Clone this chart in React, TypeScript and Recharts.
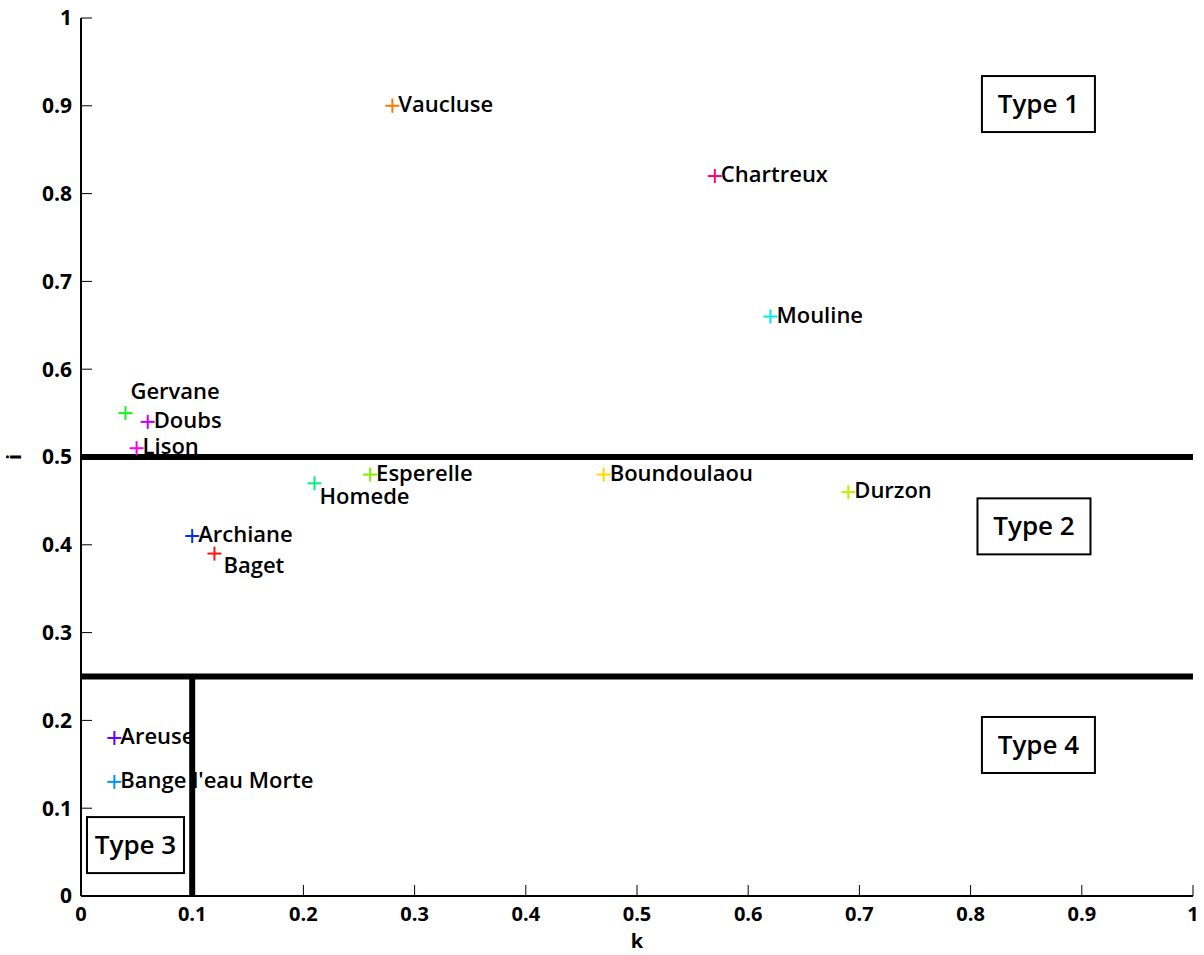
import { ScatterChart, Scatter, XAxis, YAxis, ReferenceLine, ReferenceDot } from 'recharts'

// springs, k (x) and i (y)
const sites = [
  'Vaucluse', 'Chartreux', 'Mouline', 'Gervane', 'Doubs', 'Lison', 'Esperelle',
  'Homede', 'Boundoulaou', 'Durzon', 'Archiane', 'Baget', 'Areuse', "Bange l'eau Morte",
]
const kValues = [0.28, 0.57, 0.62, 0.04, 0.06, 0.05, 0.26, 0.21, 0.47, 0.69, 0.1, 0.12, 0.03, 0.03]
const iValues = [0.9, 0.82, 0.66, 0.55, 0.54, 0.51, 0.48, 0.47, 0.48, 0.46, 0.41, 0.39, 0.18, 0.13]
const siteColors = [
  '#ff7800', '#ff0080', '#00e8f0', '#20f020', '#c000ff', '#ff00e0', '#80f000',
  '#00f080', '#ffd800', '#c0f000', '#0030ff', '#ff1010', '#6000ff', '#0090ff',
]

const ticks = [0, 0.1, 0.2, 0.3, 0.4, 0.5, 0.6, 0.7, 0.8, 0.9, 1]

// classification boundaries
const iLimits = [0.5, 0.25]
const kLimit = 0.1

const typeNames = ['Type 1', 'Type 2', 'Type 3', 'Type 4']
const typeK = [0.861, 0.857, 0.049, 0.861]
const typeI = [0.902, 0.421, 0.058, 0.172]

// label offsets (dx, dy) for names not sitting right of their marker
const LABEL_OFFSET: Record<string, [number, number]> = {
  Gervane: [5, -14],
  Homede: [5, 21],
  Baget: [9, 19],
}
const BOX_WIDTH: Record<string, number> = { 'Type 3': 97 }

const FONT = '"Open Sans", sans-serif'

const data = sites.map((name, i) => ({ name, k: kValues[i], i: iValues[i], color: siteColors[i] }))

const PlusLabel = (props: any) => {
  const { cx, cy, payload } = props
  if (cx == null || cy == null) return null
  const [dx, dy] = LABEL_OFFSET[payload.name] ?? [6, 6]
  return (
    <g>
      <line x1={cx - 7} x2={cx + 7} y1={cy} y2={cy} stroke={payload.color} strokeWidth={2} />
      <line x1={cx} x2={cx} y1={cy - 7} y2={cy + 7} stroke={payload.color} strokeWidth={2} />
      <text x={cx + dx} y={cy + dy} fontSize={22} fontWeight={600} fontFamily={FONT} fill="#000">
        {payload.name}
      </text>
    </g>
  )
}

const TypeBox = (name: string) => (props: any) => {
  const { cx, cy } = props
  if (cx == null || cy == null) return <g />
  const w = BOX_WIDTH[name] ?? 113
  const h = 56
  return (
    <g>
      <rect x={cx - w / 2} y={cy - h / 2} width={w} height={h} fill="#fff" stroke="#000" strokeWidth={2} />
      <text x={cx} y={cy + 9} textAnchor="middle" fontSize={26} fontWeight={600} fontFamily={FONT} fill="#000">
        {name}
      </text>
    </g>
  )
}

const tickStyle = { fontSize: 21, fontWeight: 700, fill: '#000', fontFamily: FONT }
const xTickStyle = { ...tickStyle, fontSize: 20 }
const axisLabelStyle = { fontSize: 20, fontWeight: 700, fill: '#000', fontFamily: FONT }
const noTick = () => <g />

export default function App() {
  return (
    <div style={{ width: 1204, height: 955, background: '#fff' }}>
      <style>{'body{margin:0}'}</style>
      <ScatterChart width={1204} height={955} margin={{ top: 18, right: 11, bottom: 0, left: 0 }}>
        <XAxis
          type="number"
          dataKey="k"
          domain={[0, 1]}
          ticks={ticks}
          height={59}
          tick={xTickStyle}
          tickSize={-11}
          tickMargin={22}
          tickLine={{ stroke: '#000' }}
          axisLine={{ stroke: '#000', strokeWidth: 2 }}
          allowDataOverflow
          label={{ value: 'k', position: 'insideBottom', offset: 7, style: axisLabelStyle }}
        />
        <XAxis
          xAxisId="top"
          orientation="top"
          type="number"
          domain={[0, 1]}
          ticks={ticks}
          height={0}
          tick={noTick}
          tickSize={-11}
          tickLine={{ stroke: '#000' }}
          axisLine={{ stroke: '#000', strokeWidth: 2 }}
          allowDataOverflow
        />
        <YAxis
          type="number"
          dataKey="i"
          domain={[0, 1]}
          ticks={ticks}
          width={81}
          tick={tickStyle}
          tickSize={-11}
          tickMargin={20}
          tickLine={{ stroke: '#000' }}
          axisLine={{ stroke: '#000', strokeWidth: 2 }}
          allowDataOverflow
          label={{ value: 'i', angle: -90, position: 'insideLeft', offset: 14, textAnchor: 'middle', style: { ...axisLabelStyle, textAnchor: 'middle' } }}
        />
        <YAxis
          yAxisId="right"
          orientation="right"
          type="number"
          domain={[0, 1]}
          ticks={ticks}
          width={0}
          tick={noTick}
          tickSize={-11}
          tickLine={{ stroke: '#000' }}
          axisLine={{ stroke: '#000', strokeWidth: 4 }}
          allowDataOverflow
        />
        <Scatter data={data} shape={PlusLabel} isAnimationActive={false} />
        {iLimits.map((v) => (
          <ReferenceLine key={v} y={v} stroke="#000" strokeWidth={6} />
        ))}
        <ReferenceLine
          segment={[{ x: kLimit, y: 0 }, { x: kLimit, y: iLimits[1] }]}
          stroke="#000"
          strokeWidth={6}
        />
        {typeNames.map((name, idx) => (
          <ReferenceDot key={name} x={typeK[idx]} y={typeI[idx]} r={1} shape={TypeBox(name)} />
        ))}
      </ScatterChart>
    </div>
  )
}
